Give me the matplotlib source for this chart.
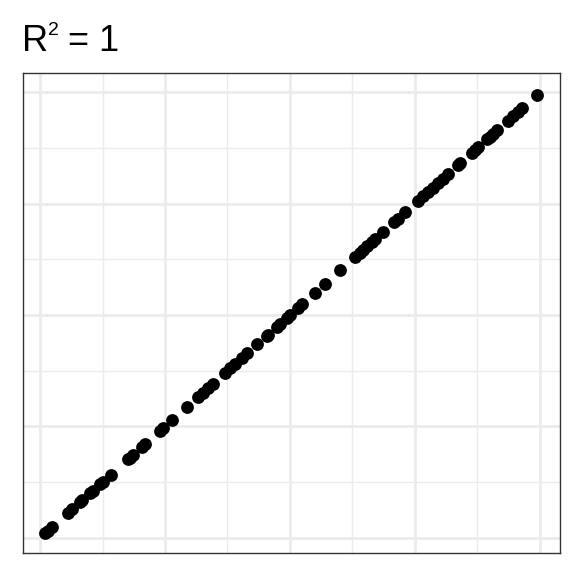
import matplotlib
matplotlib.use('Agg')
import matplotlib.pyplot as plt
from matplotlib.ticker import MultipleLocator

plt.rcParams['font.family'] = ['Liberation Sans', 'DejaVu Sans']

# values (perfect fit, R^2 = 1)
x_vals = [0.010, 0.016, 0.024, 0.056, 0.064, 0.080, 0.084, 0.100, 0.106, 0.120,
          0.126, 0.142, 0.176, 0.180, 0.186, 0.204, 0.210, 0.240, 0.246, 0.264,
          0.294, 0.316, 0.326, 0.336, 0.346, 0.370, 0.380, 0.390, 0.404, 0.414,
          0.434, 0.454, 0.456, 0.474, 0.480, 0.494, 0.500, 0.516, 0.524, 0.550,
          0.570, 0.600, 0.630, 0.640, 0.646, 0.654, 0.664, 0.670, 0.686, 0.708,
          0.716, 0.730, 0.756, 0.766, 0.776, 0.786, 0.796, 0.806, 0.816, 0.836,
          0.840, 0.864, 0.870, 0.876, 0.894, 0.900, 0.906, 0.914, 0.936, 0.946,
          0.956, 0.964, 0.994]
y_vals = [0.010, 0.016, 0.024, 0.056, 0.064, 0.080, 0.084, 0.100, 0.106, 0.120,
          0.126, 0.142, 0.176, 0.180, 0.186, 0.204, 0.210, 0.240, 0.246, 0.264,
          0.294, 0.316, 0.326, 0.336, 0.346, 0.370, 0.380, 0.390, 0.404, 0.414,
          0.434, 0.454, 0.456, 0.474, 0.480, 0.494, 0.500, 0.516, 0.524, 0.550,
          0.570, 0.600, 0.630, 0.640, 0.646, 0.654, 0.664, 0.670, 0.686, 0.708,
          0.716, 0.730, 0.756, 0.766, 0.776, 0.786, 0.796, 0.806, 0.816, 0.836,
          0.840, 0.864, 0.870, 0.876, 0.894, 0.900, 0.906, 0.914, 0.936, 0.946,
          0.956, 0.964, 0.994]

fig = plt.figure(figsize=(5.76, 5.76), dpi=100)
fig.patch.set_facecolor('white')
ax = fig.add_axes([23/576, 1 - 553/576, (560 - 23)/576, (553 - 73)/576])

ax.scatter(x_vals, y_vals, s=85, color='black', linewidths=0, zorder=3)

ax.set_xlim(-0.034, 1.04)
ax.set_ylim(-0.034, 1.043)

# ggplot theme_bw style grid, no ticks or labels
ax.xaxis.set_major_locator(MultipleLocator(0.25))
ax.yaxis.set_major_locator(MultipleLocator(0.25))
ax.xaxis.set_minor_locator(MultipleLocator(0.125))
ax.yaxis.set_minor_locator(MultipleLocator(0.125))
ax.grid(True, which='major', color='#EBEBEB', linewidth=2.0, zorder=0)
ax.grid(True, which='minor', color='#EBEBEB', linewidth=1.0, zorder=0)
ax.set_axisbelow(True)
ax.tick_params(which='both', length=0, labelbottom=False, labelleft=False)

for spine in ax.spines.values():
    spine.set_color('#333333')
    spine.set_linewidth(1.0)

# title: R, raised 2, "= 1"
fig.text(22/576, 1 - 51/576, 'R', fontsize=26, ha='left', va='baseline')
fig.text(48/576, 1 - 35/576, '2', fontsize=14, ha='left', va='baseline')
fig.text(68/576, 1 - 51/576, '= 1', fontsize=26, ha='left', va='baseline')

fig.savefig('out.png', dpi=100, facecolor=fig.get_facecolor())
